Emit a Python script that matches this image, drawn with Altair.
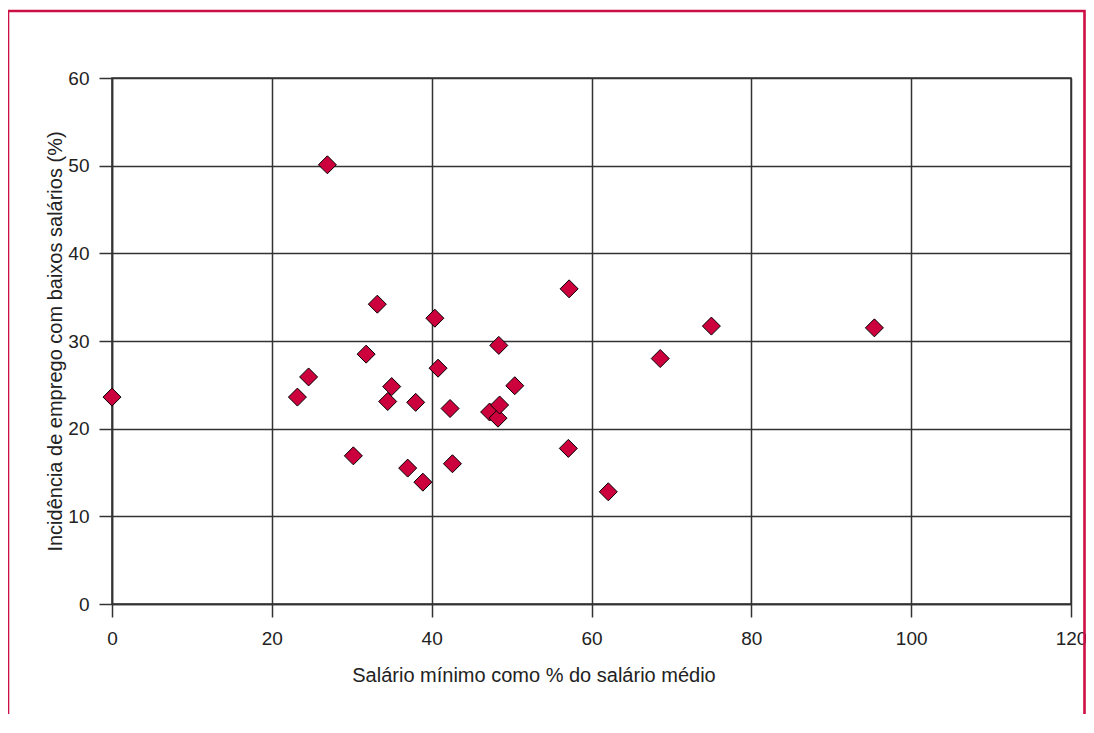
import altair as alt
import pandas as pd

# Salário mínimo como % do salário médio
salario_minimo = [0.0, 23.2, 24.6, 26.95, 30.2, 31.8, 33.2, 34.5, 35.0, 37.0,
                  38.0, 38.9, 40.4, 40.8, 42.3, 42.6, 47.25, 48.3, 48.4, 48.5,
                  50.4, 57.1, 57.2, 62.1, 68.6, 75.0, 95.4]
# Incidência de emprego com baixos salários (%)
incidencia = [23.6, 23.6, 25.9, 50.1, 16.9, 28.5, 34.2, 23.1, 24.8, 15.5,
              23.0, 13.9, 32.6, 26.9, 22.3, 16.0, 21.9, 21.2, 29.5, 22.7,
              24.9, 17.75, 35.95, 12.8, 28.0, 31.7, 31.5]

x_ticks = [0, 20, 40, 60, 80, 100, 120]
y_ticks = [0, 10, 20, 30, 40, 50, 60]

df = pd.DataFrame({"x": salario_minimo, "y": incidencia})

FONT = "Liberation Sans"
GRID = "#333333"
CRIMSON = "#cc0f45"

border = alt.Chart(alt.Data(values=[{}])).mark_rect(
    filled=False, stroke=CRIMSON, strokeWidth=2.6
).encode(
    x=alt.value(-104), x2=alt.value(972.5),
    y=alt.value(-67), y2=alt.value(680)
)

points = alt.Chart(df).mark_point(
    shape="diamond", size=324, filled=True, fill="#cc003d", opacity=1,
    stroke="#000000", strokeWidth=1
).encode(
    x=alt.X("x:Q", scale=alt.Scale(domain=[0, 120], nice=False, zero=False),
            axis=alt.Axis(values=x_ticks, title="Salário mínimo como % do salário médio",
                          labelPadding=12, labelFlush=False, titleX=421.5, titleY=77.5,
                          titleAlign="center", titleBaseline="alphabetic")),
    y=alt.Y("y:Q", scale=alt.Scale(domain=[0, 60], nice=False, zero=False),
            axis=alt.Axis(values=y_ticks, title="Incidência de emprego com baixos salários (%)",
                          labelPadding=10, labelFlush=False, titleX=-51, titleY=263,
                          titleAngle=-90, titleAlign="center", titleBaseline="alphabetic"))
)

chart = alt.layer(border, points).properties(
    width=959, height=526,
    autosize=alt.AutoSizeParams(type="none"),
    padding={"left": 104, "top": 70, "right": 15, "bottom": 110},
    background="white"
).configure_view(
    stroke=GRID, strokeWidth=1.5
).configure_axis(
    grid=True, gridColor=GRID, gridWidth=1.5, gridOpacity=1,
    domainColor=GRID, domainWidth=1.5,
    tickColor=GRID, tickWidth=1.5, tickSize=13,
    labelFont=FONT, labelFontSize=19, labelColor="#222222",
    titleFont=FONT, titleFontSize=20, titleColor="#222222", titleFontWeight="normal"
)

chart.save("out.html", embed_options={"renderer": "svg", "actions": False})
